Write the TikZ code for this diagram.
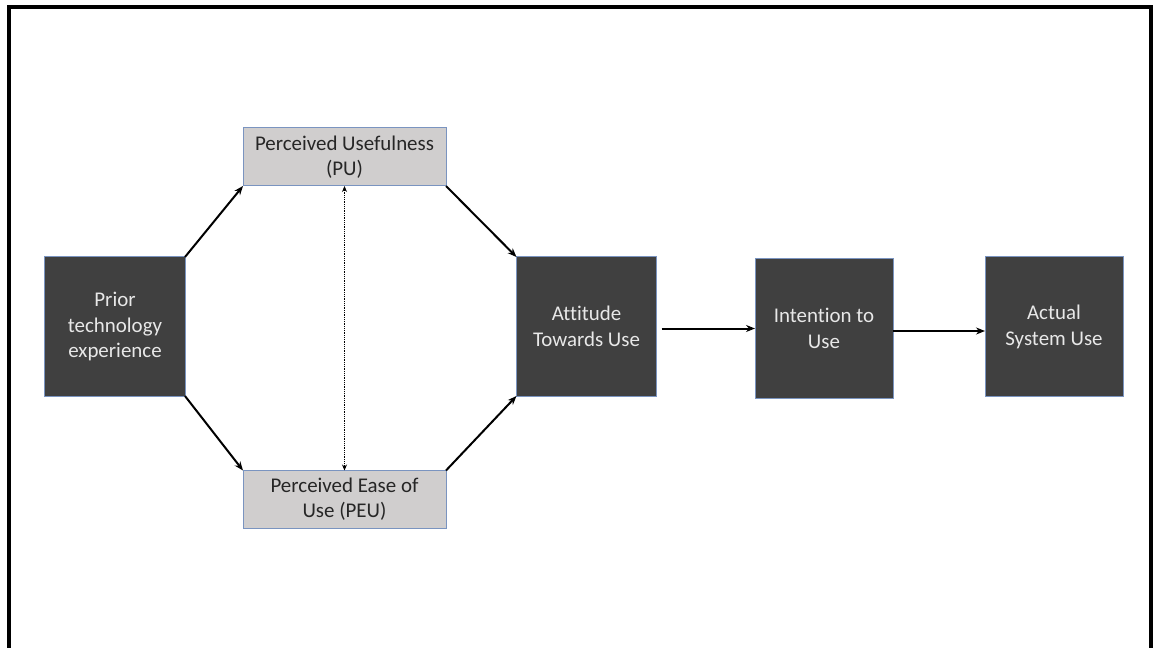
\documentclass[tikz,border=0pt]{standalone}
\usepackage{fontspec}
\setmainfont{Carlito}[Ligatures=NoCommon]
\usetikzlibrary{arrows.meta}
\definecolor{boxdark}{HTML}{404040}
\definecolor{boxlight}{HTML}{D0CECE}
\definecolor{boxedge}{HTML}{7A94C0}
\definecolor{lighttext}{HTML}{E8E8E8}
\definecolor{darktext}{HTML}{262626}
\begin{document}
\begin{tikzpicture}[x=1bp,y=-1bp,
  every node/.style={inner sep=0pt, outer sep=0pt, align=center,
    font=\fontsize{21}{26}\selectfont},
  darkbox/.style={draw=boxedge, line width=1bp, fill=boxdark, text=lighttext,
    minimum width=140bp, minimum height=139bp},
  lightbox/.style={draw=boxedge, line width=1bp, fill=boxlight, text=darktext,
    minimum width=203bp, minimum height=58bp,
    font=\fontsize{21}{25}\selectfont},
  flow/.style={line width=2bp, -{Stealth[length=9bp,width=7bp]}},
  link/.style={line width=0.8bp, densely dotted, {Stealth[length=6bp,width=5bp]}-{Stealth[length=6bp,width=5bp]}}
]
\useasboundingbox (0,0) rectangle (1154,648);
\fill[white] (0,0) rectangle (1154,648);
% outer frame, open at the bottom
\draw[line width=4bp] (9,650) -- (9,7) -- (1151,7) -- (1151,650);

% boxes
\node[darkbox] (prior) at (115,326.5) {Prior\\technology\\experience};
\node[lightbox] (pu) at (344.5,157) {Perceived Usefulness\\(PU)};
\node[lightbox] (peu) at (344.5,499.5) {Perceived Ease of\\Use (PEU)};
\node[darkbox] (att) at (586.5,326.5) {Attitude\\Towards Use};
\node[darkbox, minimum width=138bp] (int) at (824,328.5) {Intention to\\Use};
\node[darkbox, minimum width=138bp] (act) at (1054,326.5) {Actual\\System Use};

% connectors
\draw[flow] (prior.north east) -- (pu.south west);
\draw[flow] (prior.south east) -- (peu.north west);
\draw[flow] (pu.south east) -- (att.north west);
\draw[flow] (peu.north east) -- (att.south west);
\draw[link] (pu.south) -- (peu.north);
\draw[flow] ([xshift=5bp]att.east |- int.west) -- (int.west);
\draw[flow] ([yshift=-2.5bp]int.east) -- ([yshift=-2.5bp]int.east -| act.west);
\end{tikzpicture}
\end{document}
